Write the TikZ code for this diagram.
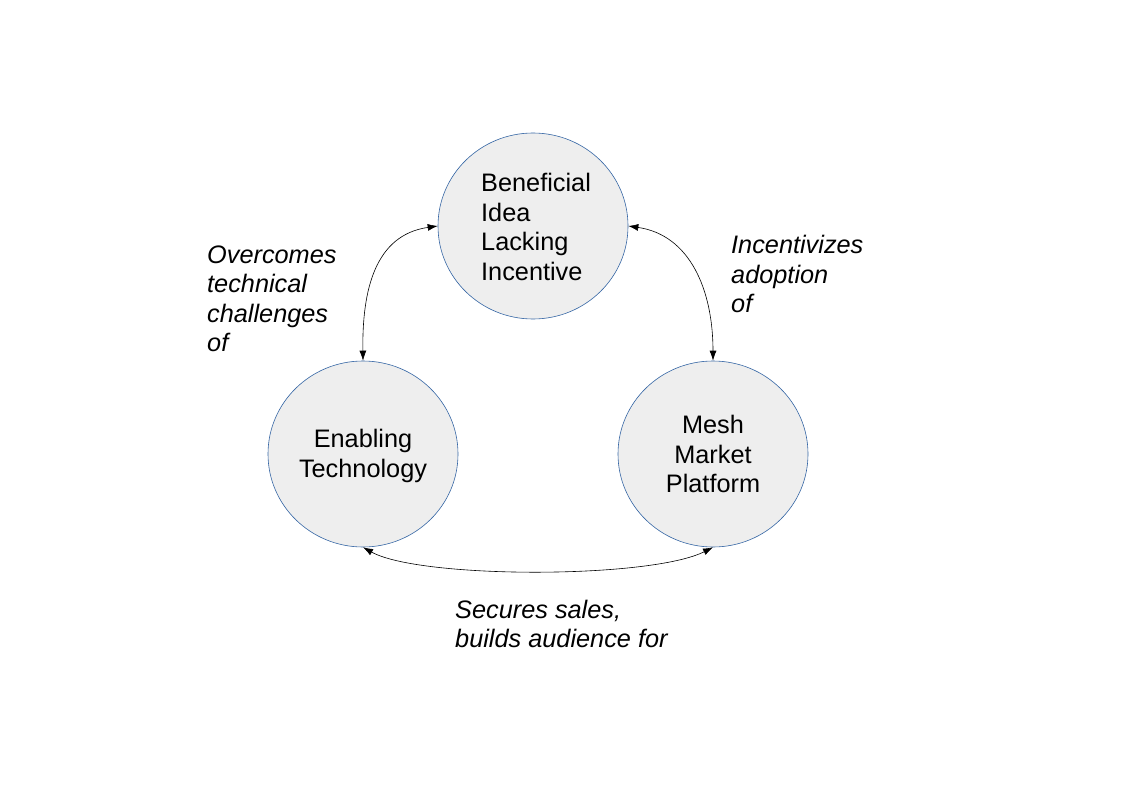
\documentclass[tikz,border=0pt]{standalone}
\usepackage{fontspec}
\setmainfont{Liberation Sans}
\usetikzlibrary{arrows.meta,shapes.geometric}
\definecolor{circfill}{HTML}{EEEEEE}
\definecolor{circline}{HTML}{3465A4}
\begin{document}
\begin{tikzpicture}[x=1pt,y=-1pt,
  bubble/.style={ellipse,draw=circline,fill=circfill,line width=0.6pt,minimum width=190pt,minimum height=186pt,inner sep=0pt},
  txt/.style={font=\fontsize{25.3}{29.5}\selectfont,inner sep=0pt},
  lbl/.style={font=\fontsize{25.3}{29.5}\selectfont\itshape,inner sep=0pt,align=left,anchor=west},
  link/.style={draw=black,line width=0.6pt,{Latex[length=10pt,width=7pt]}-{Latex[length=10pt,width=7pt]}}]
\useasboundingbox (0,0) rectangle (1123,794);
\node[bubble] (top) at (533,226) {};
\node[bubble] (left) at (363,454) {};
\node[bubble] (right) at (713,454) {};
\node[txt,align=left,anchor=west] (toptext) at (481,227) {Beneficial\\Idea\\Lacking\\Incentive};
\node[txt,align=center] (lefttext) at (363,456) {Enabling\\Technology};
\node[txt,align=center] (righttext) at (713,454) {Mesh\\Market\\Platform};
\node[lbl] (l1) at (207,299) {Overcomes\\technical\\challenges\\of};
\node[lbl] (l2) at (731,274) {Incentivizes\\adoption\\of};
\node[lbl] (l3) at (455,624) {Secures sales,\\builds audience for};
\draw[link] (left.north) .. controls (362,290) and (375,235) .. (top.west);
\draw[link] (top.east) .. controls (690,235) and (713,290) .. (right.north);
\draw[link] (left.south) .. controls (420,579) and (650,579) .. (right.south);
\end{tikzpicture}
\end{document}
